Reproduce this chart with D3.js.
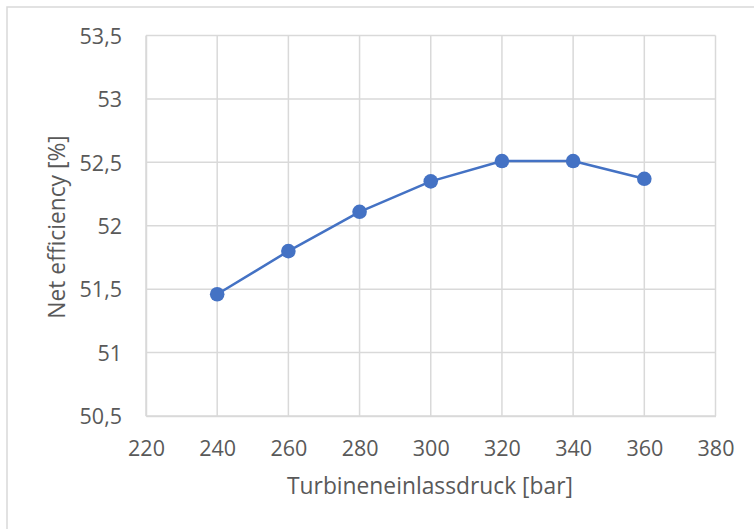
<!DOCTYPE html>
<html>
<head>
<meta charset="utf-8">
<script src="https://cdn.jsdelivr.net/npm/d3@7"></script>
<style>
  html, body { margin: 0; padding: 0; background: #fff; }
  svg { display: block; }
  text { font-family: "Open Sans", "Noto Sans", sans-serif; fill: #595959; }
</style>
</head>
<body>
<svg id="chart" width="754" height="529"></svg>
<script>
// Turbine inlet pressure [bar] vs. net efficiency [%]
const pressure = [240, 260, 280, 300, 320, 340, 360];
const efficiency = [51.46, 51.80, 52.11, 52.35, 52.51, 52.51, 52.37];
const xTicks = [220, 240, 260, 280, 300, 320, 340, 360, 380];
const yTicks = [50.5, 51, 51.5, 52, 52.5, 53, 53.5];
const xTitle = "Turbineneinlassdruck [bar]";
const yTitle = "Net efficiency [%]";

const svg = d3.select("#chart");
const W = 754, H = 529;
const plot = { left: 146, right: 715.5, top: 35.5, bottom: 416 };
const FONT = "'Open Sans', 'Noto Sans', sans-serif";

// chart frame
svg.append("rect")
  .attr("x", 7).attr("y", 7)
  .attr("width", W + 10).attr("height", H + 10)
  .attr("fill", "none").attr("stroke", "#d9d9d9").attr("stroke-width", 1.5);

const x = d3.scaleLinear().domain([220, 380]).range([plot.left, plot.right]);
const y = d3.scaleLinear().domain([50.5, 53.5]).range([plot.bottom, plot.top]);

const fmt = d => String(d).replace(".", ",");

// gridlines
const grid = svg.append("g");
grid.selectAll("line.v").data(xTicks).join("line")
  .attr("x1", d => x(d)).attr("x2", d => x(d))
  .attr("y1", plot.top).attr("y2", plot.bottom)
  .attr("stroke", "#d9d9d9").attr("stroke-width", 1.5);
grid.selectAll("line.h").data(yTicks).join("line")
  .attr("x1", plot.left).attr("x2", plot.right)
  .attr("y1", d => y(d)).attr("y2", d => y(d))
  .attr("stroke", "#d9d9d9").attr("stroke-width", 1.5);

// axes (labels only)
const xAxis = svg.append("g")
  .attr("transform", `translate(0,${plot.bottom})`)
  .call(d3.axisBottom(x).tickValues(xTicks).tickFormat(fmt).tickSize(0));
xAxis.select(".domain").attr("stroke", "#d9d9d9").attr("stroke-width", 1.5);
xAxis.selectAll("text")
  .attr("y", 40).attr("dy", 0)
  .attr("font-size", 21.5).attr("fill", "#595959").style("font-family", FONT);

const yAxis = svg.append("g")
  .attr("transform", `translate(${plot.left},0)`)
  .call(d3.axisLeft(y).tickValues(yTicks).tickFormat(fmt).tickSize(0).tickPadding(24));
yAxis.select(".domain").attr("stroke", "#d9d9d9").attr("stroke-width", 1.5);
yAxis.selectAll("text")
  .attr("dy", "0.36em")
  .attr("font-size", 21.5).attr("fill", "#595959").style("font-family", FONT);

// axis titles
svg.append("text")
  .attr("x", 430).attr("y", 494)
  .attr("text-anchor", "middle").attr("font-size", 22.8)
  .text(xTitle);
svg.append("text")
  .attr("transform", "translate(65,227) rotate(-90)")
  .attr("text-anchor", "middle").attr("font-size", 22.8)
  .text(yTitle);

// series
const data = pressure.map((p, i) => ({ p, v: efficiency[i] }));
svg.append("path")
  .datum(data)
  .attr("fill", "none").attr("stroke", "#4472c4").attr("stroke-width", 2.5)
  .attr("stroke-linejoin", "round")
  .attr("d", d3.line().x(d => x(d.p)).y(d => y(d.v)));
svg.append("g").selectAll("circle").data(data).join("circle")
  .attr("cx", d => x(d.p)).attr("cy", d => y(d.v)).attr("r", 7.3)
  .attr("fill", "#4472c4");
</script>
</body>
</html>
